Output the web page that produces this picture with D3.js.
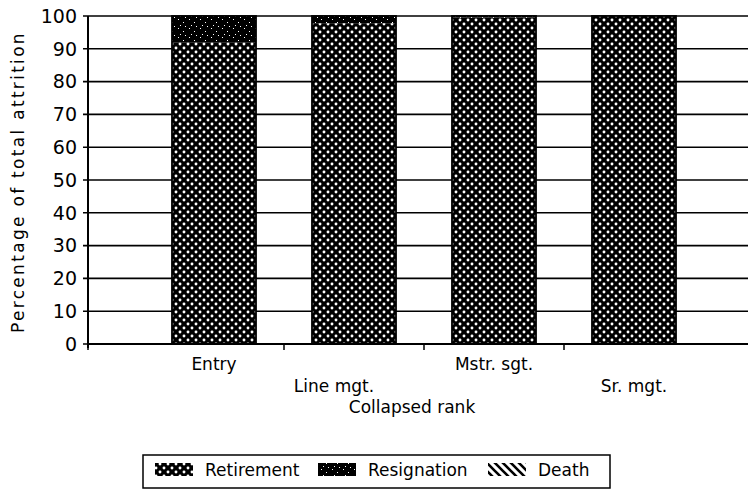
<!DOCTYPE html>
<html>
<head>
<meta charset="utf-8">
<script src="https://cdn.jsdelivr.net/npm/d3@7"></script>
<style>
  body { margin: 0; padding: 0; background: #fff; }
  svg { display: block; }
  text { font-family: "DejaVu Sans", sans-serif; fill: #000; }
</style>
</head>
<body>
<script>
// data
var categories = ["Entry", "Line mgt.", "Mstr. sgt.", "Sr. mgt."];
var retirement = [92, 97.8, 99.5, 100];
var resignation = [8, 2.2, 0.5, 0];
var death = [0, 0, 0, 0];
var seriesNames = ["Retirement", "Resignation", "Death"];
var yTicks = [0, 10, 20, 30, 40, 50, 60, 70, 80, 90, 100];

var width = 748, height = 495;
// note: "top" is taken by window.top, so plot edges get a prefix
var plotLeft = 88, plotRight = 748, plotTop = 16, plotBottom = 344;

var svg = d3.select("body").append("svg")
    .attr("width", width)
    .attr("height", height);

// fill patterns
var defs = svg.append("defs");

var pRet = defs.append("pattern")
    .attr("id", "p-ret")
    .attr("patternUnits", "userSpaceOnUse")
    .attr("width", 8).attr("height", 8);
pRet.append("rect").attr("width", 8).attr("height", 8).attr("fill", "#000");
[[0, 0], [8, 0], [0, 8], [8, 8], [4, 4]].forEach(function(p) {
    pRet.append("circle").attr("cx", p[0]).attr("cy", p[1]).attr("r", 1.45).attr("fill", "#fff");
});

var pRes = defs.append("pattern")
    .attr("id", "p-res")
    .attr("patternUnits", "userSpaceOnUse")
    .attr("width", 11).attr("height", 9);
pRes.append("rect").attr("width", 11).attr("height", 9).attr("fill", "#000");
[[2, 1], [7, 4], [4, 7], [9, 8]].forEach(function(p) {
    pRes.append("rect").attr("x", p[0]).attr("y", p[1]).attr("width", 1).attr("height", 1).attr("fill", "#fff");
});

var pDeath = defs.append("pattern")
    .attr("id", "p-death")
    .attr("patternUnits", "userSpaceOnUse")
    .attr("width", 8).attr("height", 8);
pDeath.append("rect").attr("width", 8).attr("height", 8).attr("fill", "#fff");
pDeath.append("path").attr("d", "M-2,-2L10,10M-2,6L2,10M6,-2L10,2")
    .attr("stroke", "#000").attr("stroke-width", 2.6);

var fills = {"Retirement": "url(#p-ret)", "Resignation": "url(#p-res)", "Death": "url(#p-death)"};

// scales
var x = d3.scaleBand()
    .domain(categories)
    .range([144, 704])
    .paddingInner(0.4)
    .paddingOuter(0.2);

var y = d3.scaleLinear()
    .domain([0, 100])
    .range([plotBottom, plotTop]);

// gridlines and y ticks
svg.selectAll("line.grid")
    .data(yTicks)
    .enter()
    .append("line")
    .attr("class", "grid")
    .attr("x1", plotLeft - 5)
    .attr("x2", plotRight)
    .attr("y1", function(d) { return y(d); })
    .attr("y2", function(d) { return y(d); })
    .style("stroke", "#000")
    .style("stroke-width", 1.6);

svg.selectAll("text.ytick")
    .data(yTicks)
    .enter()
    .append("text")
    .attr("class", "ytick")
    .attr("x", plotLeft - 11)
    .attr("y", function(d) { return y(d); })
    .attr("dy", "0.36em")
    .attr("text-anchor", "end")
    .attr("font-size", 19)
    .text(function(d) { return d; });

// stacked bars
var table = categories.map(function(c, i) {
    return {cat: c, Retirement: retirement[i], Resignation: resignation[i], Death: death[i]};
});
var stacked = d3.stack().keys(seriesNames)(table);

svg.selectAll("g.layer")
    .data(stacked)
    .enter()
    .append("g")
    .attr("class", "layer")
    .attr("fill", function(d) { return fills[d.key]; })
    .selectAll("rect")
    .data(function(d) { return d.filter(function(v) { return v[1] - v[0] > 0; }); })
    .enter()
    .append("rect")
    .attr("x", function(d) { return x(d.data.cat); })
    .attr("width", x.bandwidth())
    .attr("y", function(d) { return y(d[1]); })
    .attr("height", function(d) { return y(d[0]) - y(d[1]); });

// bar outlines
svg.selectAll("rect.outline")
    .data(categories)
    .enter()
    .append("rect")
    .attr("class", "outline")
    .attr("x", function(d) { return x(d); })
    .attr("width", x.bandwidth())
    .attr("y", y(100))
    .attr("height", y(0) - y(100))
    .attr("fill", "none")
    .style("stroke", "#000")
    .style("stroke-width", 1.8);

// axes
svg.append("line")
    .attr("x1", plotLeft).attr("x2", plotLeft)
    .attr("y1", y(100)).attr("y2", y(0) + 4)
    .style("stroke", "#000").style("stroke-width", 2);
svg.append("line")
    .attr("x1", plotLeft).attr("x2", plotRight)
    .attr("y1", y(0)).attr("y2", y(0))
    .style("stroke", "#000").style("stroke-width", 2);

var xTickPos = [plotLeft].concat(categories.slice(1).map(function(c) {
    return x(c) - x.step() * x.paddingInner() / 2;
}));
svg.selectAll("line.xtick")
    .data(xTickPos)
    .enter()
    .append("line")
    .attr("class", "xtick")
    .attr("x1", function(d) { return d; })
    .attr("x2", function(d) { return d; })
    .attr("y1", y(0))
    .attr("y2", y(0) + 6)
    .style("stroke", "#000").style("stroke-width", 1.5);

// staggered category labels
svg.selectAll("text.xlab")
    .data(categories)
    .enter()
    .append("text")
    .attr("class", "xlab")
    .attr("x", function(d, i) { return x(d) + x.bandwidth() / 2 + (i === 1 ? -20 : 0); })
    .attr("y", function(d, i) { return i % 2 === 0 ? 370 : 392; })
    .attr("text-anchor", "middle")
    .attr("font-size", 17)
    .text(function(d) { return d; });

svg.append("text")
    .attr("x", 412)
    .attr("y", 413)
    .attr("text-anchor", "middle")
    .attr("font-size", 17)
    .text("Collapsed rank");

svg.append("text")
    .attr("transform", "translate(24," + 182 + ") rotate(-90)")
    .attr("text-anchor", "middle")
    .attr("font-size", 17)
    .attr("letter-spacing", 2.3)
    .text("Percentage of total attrition");

// legend
var legend = svg.append("g");
legend.append("rect")
    .attr("x", 143).attr("y", 455)
    .attr("width", 467).attr("height", 33)
    .attr("fill", "none")
    .style("stroke", "#000").style("stroke-width", 1.5);

var legendX = [155, 318, 488];
seriesNames.forEach(function(name, i) {
    legend.append("rect")
        .attr("x", legendX[i]).attr("y", 463)
        .attr("width", 38).attr("height", 13)
        .attr("fill", fills[name]);
    legend.append("text")
        .attr("x", legendX[i] + 50)
        .attr("y", 476)
        .attr("font-size", 17)
        .text(name);
});
</script>
</body>
</html>
